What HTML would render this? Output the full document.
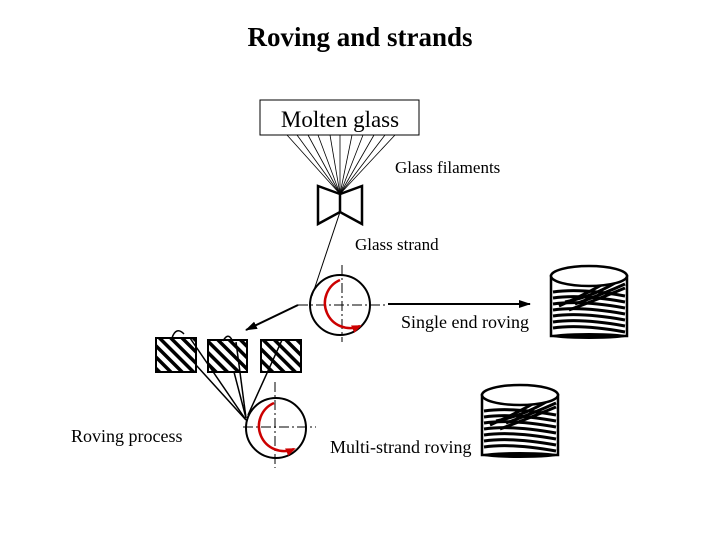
<!DOCTYPE html>
<html><head><style>body{margin:0;background:#fff}svg{display:block}</style></head><body>
<svg width="720" height="540" viewBox="0 0 720 540" xmlns="http://www.w3.org/2000/svg" font-family="Liberation Serif, serif">
<defs>
<pattern id="h" width="8" height="8" patternUnits="userSpaceOnUse" patternTransform="rotate(-45)">
<rect width="8" height="8" fill="#fff"/><rect width="3.5" height="8" fill="#000"/></pattern>
<marker id="a" markerUnits="userSpaceOnUse" markerWidth="12" markerHeight="10" refX="11" refY="5" orient="auto"><path d="M0,1 L12,5 L0,9z" fill="#000"/></marker>
<marker id="r" markerUnits="userSpaceOnUse" markerWidth="10" markerHeight="10" refX="8" refY="5" orient="auto"><path d="M0,1 L10,5 L0,9z" fill="#c00"/></marker>
<g id="cyl">
<rect x="0" y="10" width="76" height="60" fill="#fff" stroke="#000" stroke-width="2.5"/>
<ellipse cx="38" cy="70" rx="38" ry="3" fill="#000"/>
<g stroke="#000" stroke-width="3" fill="none">
<path d="M2,26 Q30,22 74,30"/><path d="M2,32 Q30,28 74,36"/><path d="M2,38 Q30,34 74,42"/><path d="M2,44 Q30,40 74,48"/><path d="M2,50 Q30,46 74,54"/><path d="M2,56 Q30,52 74,60"/><path d="M2,62 Q30,58 74,66"/>
<path d="M14,36 Q45,30 72,12"/><path d="M24,38 Q52,28 74,18"/><path d="M8,40 Q40,26 66,10"/><path d="M18,44 Q50,32 74,22"/>
</g>
<ellipse cx="38" cy="10" rx="38" ry="10" fill="#fff" stroke="#000" stroke-width="2.5"/>
</g>
</defs>
<text x="360" y="46" font-size="27" font-weight="bold" text-anchor="middle">Roving and strands</text>
<rect x="260" y="100" width="159" height="35" fill="#fff" stroke="#000"/>
<text x="340" y="127" font-size="23" text-anchor="middle">Molten glass</text>
<g stroke="#000" stroke-width="0.8">
<line x1="287" y1="135" x2="340" y2="194"/><line x1="297" y1="135" x2="340" y2="194"/><line x1="308" y1="135" x2="340" y2="194"/><line x1="318" y1="135" x2="340" y2="194"/><line x1="330" y1="135" x2="340" y2="194"/><line x1="340" y1="135" x2="340" y2="194"/><line x1="352" y1="135" x2="340" y2="194"/><line x1="363" y1="135" x2="340" y2="194"/><line x1="374" y1="135" x2="340" y2="194"/><line x1="385" y1="135" x2="340" y2="194"/><line x1="395" y1="135" x2="340" y2="194"/>
</g>
<g stroke="#000" stroke-width="2.5" fill="none">
<path d="M340,194 L318,186 L318,224 L340,212 L362,224 L362,186 Z"/><line x1="340" y1="194" x2="340" y2="212"/>
</g>
<line x1="340" y1="212" x2="312" y2="296" stroke="#000"/>
<text x="395" y="173" font-size="17">Glass filaments</text>
<text x="355" y="250" font-size="17">Glass strand</text>
<circle cx="340" cy="305" r="30" fill="none" stroke="#000" stroke-width="2"/>
<g stroke="#000" stroke-dasharray="10,3,2,3"><line x1="342" y1="265" x2="342" y2="342"/><line x1="298" y1="305" x2="385" y2="305"/></g>
<path d="M340,280 A25,25 0 1,0 360,326" fill="none" stroke="#c00" stroke-width="2.5" marker-end="url(#r)"/>
<line x1="388" y1="304" x2="530" y2="304" stroke="#000" stroke-width="2" marker-end="url(#a)"/>
<line x1="298" y1="305" x2="246" y2="330" stroke="#000" stroke-width="2" marker-end="url(#a)"/>
<text x="401" y="328" font-size="18">Single end roving</text>
<g stroke="#000" stroke-width="2" fill="url(#h)">
<rect x="156" y="338" width="40" height="34"/><rect x="208" y="340" width="39" height="32"/><rect x="261" y="340" width="40" height="32"/></g>
<g stroke="#000" stroke-width="1.5" fill="none">
<path d="M172,338 Q176,326 184,334"/><path d="M223,341 Q228,332 232,340"/>
<line x1="190" y1="338" x2="246" y2="420"/><line x1="236" y1="342" x2="246" y2="418"/><line x1="234" y1="372" x2="246" y2="418"/><line x1="282" y1="340" x2="248" y2="415"/>
<line x1="196" y1="365" x2="246" y2="420"/></g>
<circle cx="276" cy="428" r="30" fill="none" stroke="#000" stroke-width="2"/>
<g stroke="#000" stroke-dasharray="10,3,2,3"><line x1="275" y1="382" x2="275" y2="468"/><line x1="243" y1="427" x2="316" y2="427"/></g>
<path d="M274,403 A25,25 0 1,0 294,449" fill="none" stroke="#c00" stroke-width="2.5" marker-end="url(#r)"/>
<text x="71" y="442" font-size="18">Roving process</text>
<text x="330" y="453" font-size="18">Multi-strand roving</text>
<use href="#cyl" x="551" y="266"/>
<use href="#cyl" x="482" y="385"/>
</svg>
</body></html>
